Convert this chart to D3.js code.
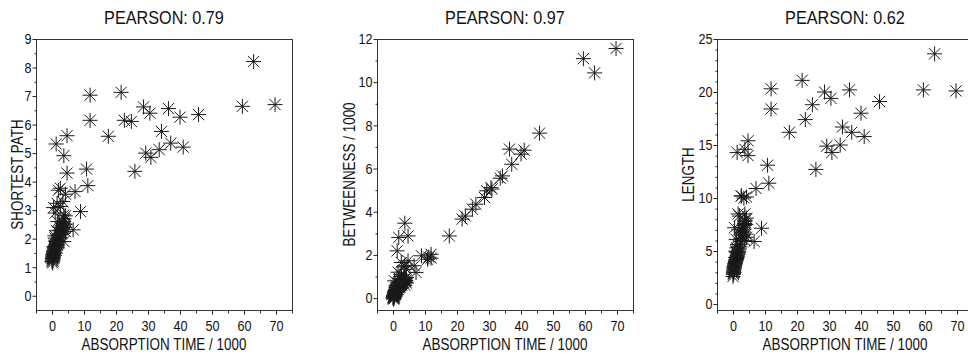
<!DOCTYPE html>
<html><head><meta charset="utf-8">
<script src="https://cdn.jsdelivr.net/npm/d3@7"></script>
<style>body{margin:0;background:#fff}svg{display:block}text{font-family:"Liberation Sans",Arial,sans-serif;fill:#111}</style>
</head><body><svg id="c" width="968" height="354"></svg>
<script>
// shared absorption time (/1000) per node
const absorption = [
 6.6,7.2,8.9,10.8,11.2,11.9,11.9,17.6,21.6,22.6,24.8,25.9,28.6,29.3,30.6,30.9,33.5,34.2,36.4,37.1,40.0,41.0,45.8,59.5,63.0,69.7,
 1.3,4.7,3.7,4.7,2.6,4.2,1.6,0.5,2.6,3.7,3.7,4.2,3.7,3.4,1.8,2.5,3.0,1.0,2.0,4.0,
 0.0,0.1,0.1,0.2,0.2,0.3,0.3,0.4,0.4,0.5,0.6,0.7,0.8,0.9,1.0,1.1,1.2,1.3,1.4,1.5,1.6,1.7,1.8,2.0,2.1,2.2,2.4,2.5,2.7,2.8,3.0,3.2,3.3,3.5,3.6,3.8,4.0,4.2,0.2,0.4,0.6,0.3,0.5,1.0,1.4,1.2,0.8,0.9
];
const shortestPath = [
 2.31,3.65,2.95,4.44,3.86,7.03,6.15,5.59,7.13,6.15,6.11,4.36,6.62,5.00,6.40,4.85,5.12,5.76,6.56,5.35,6.26,5.21,6.35,6.64,8.21,6.70,
 5.32,5.61,4.91,4.30,3.77,3.56,3.24,3.09,3.13,2.83,2.54,2.25,1.90,3.30,2.60,2.40,2.20,2.90,3.70,2.40,
 1.20,1.25,1.30,1.35,1.40,1.28,1.45,1.50,1.33,1.55,1.60,1.42,1.65,1.70,1.50,1.75,1.60,1.80,1.68,1.85,1.90,1.78,1.95,2.00,1.88,2.05,2.10,2.30,2.15,2.40,2.20,2.55,2.35,2.60,2.45,2.70,2.50,2.80,1.15,1.38,1.72,1.22,1.48,2.02,2.28,1.95,1.70,2.10
];
const betweenness = [
 1.50,1.19,1.96,1.80,1.90,2.03,1.85,2.88,3.66,3.80,4.12,4.35,4.66,4.97,5.12,5.05,5.55,5.66,6.90,6.20,6.67,6.85,7.64,11.09,10.43,11.56,
 2.19,2.88,3.47,1.73,1.65,1.34,1.20,0.80,1.00,1.50,0.90,0.70,0.60,1.45,2.81,1.10,0.85,0.60,0.90,0.75,
 0.02,0.05,0.00,0.10,0.08,0.15,0.12,0.20,0.05,0.25,0.18,0.30,0.22,0.35,0.28,0.40,0.33,0.45,0.38,0.50,0.42,0.55,0.48,0.60,0.52,0.65,0.58,0.70,0.62,0.75,0.68,0.80,0.72,0.85,0.78,0.90,0.82,0.95,-0.05,0.10,0.30,0.00,0.15,0.50,0.70,0.35,0.20,0.40
];
const lengthVals = [
 5.9,10.9,7.15,13.1,11.4,20.3,18.4,16.2,21.1,17.4,18.8,12.7,20.0,14.9,19.4,14.3,15.0,16.7,20.2,16.2,18.0,15.8,19.1,20.2,23.6,20.1,
 14.3,15.4,14.6,14.0,10.2,10.1,8.5,7.2,10.2,8.5,7.8,6.3,6.0,10.0,7.0,6.8,6.5,6.1,8.3,7.5,
 2.6,2.8,3.0,3.2,3.1,3.4,3.3,3.6,3.5,3.8,3.7,4.0,3.9,4.2,4.1,4.4,4.3,4.6,4.5,4.8,4.7,5.0,4.9,5.2,5.4,5.6,5.9,6.2,6.5,6.7,7.0,7.2,6.8,7.4,7.6,7.9,6.6,8.1,2.9,3.4,3.8,3.0,3.6,4.9,5.6,5.3,4.4,5.0
];
const titles = ["PEARSON: 0.79","PEARSON: 0.97","PEARSON: 0.62"];
const yLabels = ["SHORTEST PATH","BETWEENNESS / 1000","LENGTH"];
const xLabel = "ABSORPTION TIME / 1000";
const xTicks = [0,10,20,30,40,50,60,70];
const yTicks1 = [0,1,2,3,4,5,6,7,8,9];
const yTicks2 = [0,2,4,6,8,10,12];
const yTicks3 = [0,5,10,15,20,25];

const panels = [
 {ys: shortestPath, yd:[-0.5,9], yt:yTicks1, minor:0.5, left:36, title:titles[0], yl:yLabels[0], ylx:23},
 {ys: betweenness, yd:[-0.55,12], yt:yTicks2, minor:1, left:377, title:titles[1], yl:yLabels[1], ylx:355},
 {ys: lengthVals, yd:[-0.56,25], yt:yTicks3, minor:1, left:717, title:titles[2], yl:yLabels[2], ylx:694}
];
const W=256, plotTop=39, plotBottom=310;
const svg = d3.select("#c");
const star = (r,d) => `M${-r},0H${r}M0,${-r}V${r}M${-d},${-d}L${d},${d}M${-d},${d}L${d},${-d}`;
// condensed look: compress glyphs horizontally
function squeeze(sel,k){ sel.each(function(){ const L=this.getComputedTextLength();
  this.setAttribute("textLength",(L*k).toFixed(2)); this.setAttribute("lengthAdjust","spacingAndGlyphs"); }); }

panels.forEach(p=>{
  const g = svg.append("g");
  const x = d3.scaleLinear().domain([-5,75]).range([p.left,p.left+W]);
  const y = d3.scaleLinear().domain(p.yd).range([plotBottom,plotTop]);
  g.append("rect").attr("x",p.left+0.5).attr("y",plotTop+0.5).attr("width",W).attr("height",plotBottom-plotTop)
    .attr("fill","none").attr("stroke","#333").attr("stroke-width",1);
  const xa = g.append("g").attr("transform",`translate(0,${plotBottom+0.5})`)
    .call(d3.axisBottom(x).tickValues(xTicks).tickSize(4).tickPadding(6).tickFormat(d3.format("d")));
  const xm = g.append("g").attr("transform",`translate(0,${plotBottom+0.5})`)
    .call(d3.axisBottom(x).tickValues(d3.range(-5,76,5)).tickSize(3).tickFormat(""));
  const ya = g.append("g").attr("transform",`translate(${p.left+0.5},0)`)
    .call(d3.axisLeft(y).tickValues(p.yt).tickSize(4).tickPadding(1).tickFormat(d3.format("d")));
  const minorVals = d3.range(0, p.yd[1]+1e-9, p.minor).filter(v=>!p.yt.includes(v));
  const ym = g.append("g").attr("transform",`translate(${p.left+0.5},0)`)
    .call(d3.axisLeft(y).tickValues(minorVals).tickSize(2).tickFormat(""));
  [xa,xm,ya,ym].forEach(a=>{a.select(".domain").remove(); a.selectAll("line").attr("stroke","#222");});
  [xa,ya].forEach(a=>{ const t=a.selectAll("text").attr("font-size",15).attr("fill","#111")
     .style("font-family",'"Liberation Sans",Arial,sans-serif'); squeeze(t,0.84); });
  g.append("g").selectAll("path").data(absorption.map((a,i)=>[a,p.ys[i]])).join("path")
    .attr("transform",d=>`translate(${x(d[0])},${y(d[1])})`)
    .attr("d",star(7.5,5.6)).attr("fill","none").attr("stroke","#1a1a1a").attr("stroke-width",1);
  const t1 = g.append("text").attr("x",p.left+W/2).attr("y",24).attr("text-anchor","middle")
    .attr("font-size",18).text(p.title);
  squeeze(t1,0.9);
  const t2 = g.append("text").attr("x",p.left+W/2).attr("y",350).attr("text-anchor","middle")
    .attr("font-size",16).text(xLabel);
  squeeze(t2,0.84);
  const t3 = g.append("text").attr("transform",`translate(${p.ylx},${(plotTop+plotBottom)/2}) rotate(-90)`)
    .attr("text-anchor","middle").attr("font-size",16).text(p.yl);
  squeeze(t3,0.84);
});
</script></body></html>
